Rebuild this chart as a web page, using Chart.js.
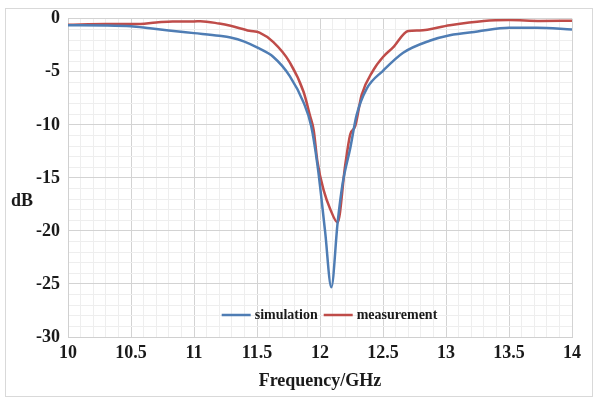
<!DOCTYPE html>
<html>
<head>
<meta charset="utf-8">
<script src="https://cdn.jsdelivr.net/npm/chart.js@4.4.1/dist/chart.umd.min.js"></script>
<style>
  html, body { margin: 0; padding: 0; background: #fff; }
  #wrap { width: 598px; height: 399px; position: relative; }
</style>
</head>
<body>
<div id="wrap"><canvas id="chart-canvas" width="598" height="399"></canvas></div>
<script>
//------------------------ DATA ----------------------------

const simFreq = [10.0, 10.3, 10.5, 10.65, 10.8, 11.0, 11.2, 11.29, 11.4, 11.5, 11.63, 11.76, 11.87,
  11.93, 11.98, 12.04, 12.09, 12.14, 12.18, 12.24, 12.29, 12.37, 12.5, 12.66, 12.87, 13.03, 13.25, 13.5, 13.72, 14.0];
const simValues = [-0.6, -0.62, -0.7, -0.9, -1.1, -1.35, -1.6, -1.76, -2.15, -2.7, -3.6, -5.4, -7.9,
  -10.1, -13.8, -20.0, -25.3, -19.2, -15.5, -12.2, -9.1, -6.6, -4.9, -3.2, -2.07, -1.55, -1.2, -0.85, -0.85, -1.0];

const measFreq = [10.0, 10.3, 10.53, 10.7, 10.83, 11.0, 11.05, 11.2, 11.29, 11.44, 11.52, 11.63, 11.76,
  11.87, 11.92, 11.95, 11.98, 12.03, 12.08, 12.14, 12.2, 12.24, 12.28, 12.33, 12.42, 12.5, 12.58, 12.7,
  12.79, 13.03, 13.3, 13.5, 13.75, 14.0];
const measValues = [-0.55, -0.5, -0.5, -0.35, -0.25, -0.25, -0.22, -0.45, -0.66, -1.13, -1.3, -2.2, -4.1,
  -6.9, -9.1, -10.5, -13.5, -16.2, -17.9, -19.2, -13.8, -10.9, -10.1, -7.2, -4.9, -3.6, -2.7, -1.15,
  -1.1, -0.6, -0.2, -0.12, -0.2, -0.19];

const seriesLabels = ["simulation", "measurement"];
const xTickLabels = ["10", "10.5", "11", "11.5", "12", "12.5", "13", "13.5", "14"];
const yTickLabels = ["0", "-5", "-10", "-15", "-20", "-25", "-30"];

//------------------------ HELPERS ----------------------------

const serif = "'Liberation Serif', 'Times New Roman', serif";
const blue = "#4f7db4";
const red = "#bf4c49";

function toPoints(xs, ys) {
  return xs.map((x, i) => ({ x: x, y: ys[i] }));
}

function sameNum(a, b) {
  return Math.abs(a - b) < 1e-6;
}

// label only the major ticks, the rest are minor grid lines
function xLabel(v) {
  const hit = xTickLabels.find((t) => sameNum(parseFloat(t), v));
  return hit === undefined ? "" : hit;
}

function yLabel(v) {
  const hit = yTickLabels.find((t) => sameNum(parseFloat(t), v));
  return hit === undefined ? "" : hit;
}

// outer frame, axis titles and the legend inside the plot
const decorations = {
  id: "decorations",
  beforeDraw(chart) {
    const ctx = chart.ctx;
    ctx.save();
    ctx.strokeStyle = "#d9d9d9";
    ctx.lineWidth = 1;
    ctx.strokeRect(5.5, 8.5, 587, 388);
    ctx.restore();
  },
  afterDraw(chart) {
    const ctx = chart.ctx;
    const area = chart.chartArea;
    ctx.save();
    ctx.fillStyle = "#1a1a1a";
    ctx.font = "bold 18px " + serif;
    ctx.textBaseline = "middle";
    ctx.textAlign = "center";
    ctx.fillText("Frequency/GHz", (area.left + area.right) / 2, 381);
    ctx.textAlign = "left";
    ctx.fillText("dB", 11, 201);

    // legend
    ctx.font = "bold 14px " + serif;
    const sample = 29;
    const widths = seriesLabels.map((l) => ctx.measureText(l).width);
    const total = sample + 4 + widths[0] + 6 + sample + 5 + widths[1];
    let x = 330 - total / 2;
    const y = area.bottom - 22;
    chart.data.datasets.forEach((ds, i) => {
      ctx.strokeStyle = ds.borderColor;
      ctx.lineWidth = 2.5;
      ctx.beginPath();
      ctx.moveTo(x, y);
      ctx.lineTo(x + sample, y);
      ctx.stroke();
      x += sample + 4;
      ctx.fillText(ds.label, x, y);
      x += widths[i] + 6;
    });
    ctx.restore();
  },
};

//------------------------ CHART ----------------------------

const ctx = document.getElementById("chart-canvas").getContext("2d");
const myChart = new Chart(ctx, {
  type: "line",
  data: {
    datasets: [
      {
        label: seriesLabels[0],
        data: toPoints(simFreq, simValues),
        borderColor: blue,
        borderWidth: 2.5,
        pointRadius: 0,
        cubicInterpolationMode: "monotone",
      },
      {
        label: seriesLabels[1],
        data: toPoints(measFreq, measValues),
        borderColor: red,
        borderWidth: 2.5,
        pointRadius: 0,
        cubicInterpolationMode: "monotone",
      },
    ],
  },
  options: {
    responsive: false,
    animation: false,
    layout: { padding: { left: 0, top: 18, right: 26, bottom: 0 } },
    plugins: {
      legend: { display: false },
      tooltip: { enabled: false },
    },
    scales: {
      x: {
        type: "linear",
        min: 10,
        max: 14,
        afterFit: (s) => { s.height = 62; },
        border: { color: "#d0d0d0" },
        grid: {
          drawTicks: false,
          color: (c) => (xLabel(c.tick.value) ? "#d3d3d3" : "#eeeeee"),
        },
        ticks: {
          stepSize: 0.1,
          autoSkip: false,
          maxRotation: 0,
          padding: 6,
          color: "#1a1a1a",
          font: { family: serif, size: 18, weight: "bold" },
          callback: (v) => xLabel(v),
        },
      },
      y: {
        min: -30,
        max: 0,
        afterFit: (s) => { s.width = 68; },
        border: { color: "#d0d0d0" },
        grid: {
          drawTicks: false,
          color: (c) => (yLabel(c.tick.value) ? "#d3d3d3" : "#eeeeee"),
        },
        ticks: {
          stepSize: 1,
          autoSkip: false,
          padding: 8,
          color: "#1a1a1a",
          font: { family: serif, size: 18, weight: "bold" },
          callback: (v) => yLabel(v),
        },
      },
    },
  },
  plugins: [decorations],
});
</script>
</body>
</html>
